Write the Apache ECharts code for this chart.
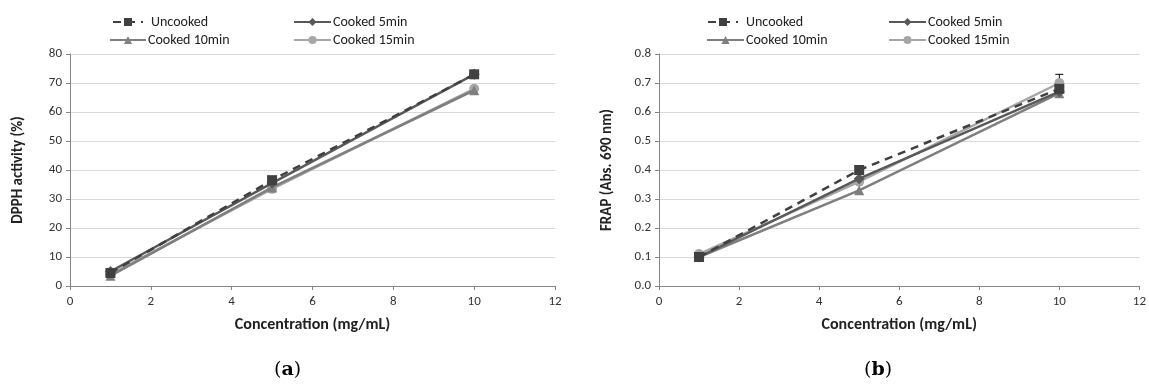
<!DOCTYPE html>
<html><head><meta charset="utf-8">
<script src="https://cdn.jsdelivr.net/npm/echarts@6/dist/echarts.min.js"></script>
<style>html,body{margin:0;padding:0;background:#fff}#c{width:1149px;height:389px}</style>
</head><body><div id="c"></div>
<script>
const conc = [1, 5, 10];
const seriesNames = ['Uncooked', 'Cooked 5min', 'Cooked 10min', 'Cooked 15min'];
const dpphUncooked = [4.5, 36.5, 73];
const dpphCooked5 = [5, 35.5, 73];
const dpphCooked10 = [3.5, 34, 67.5];
const dpphCooked15 = [4, 33.5, 68];
const frapUncooked = [0.10, 0.40, 0.68];
const frapCooked5 = [0.10, 0.37, 0.67];
const frapCooked10 = [0.10, 0.33, 0.665];
const frapCooked15 = [0.11, 0.36, 0.70];
const frapCooked15Err = [0, 0, 0.03];
const xTicks = [0, 2, 4, 6, 8, 10, 12];

const colors = ['#404040', '#595959', '#7f7f7f', '#a6a6a6'];
const symbols = ['rect', 'diamond', 'triangle', 'circle'];
const font = 'Carlito, Calibri, Lato, "Liberation Sans", Arial, sans-serif';

function pairs(vals) { return conc.map((c, i) => [c, vals[i]]); }

const chart = echarts.init(document.getElementById('c'));
const grids = [
  { left: 70, top: 54, width: 485, height: 232 },
  { left: 659, top: 54, width: 485, height: 232 }
];
function xAxis(gi) {
  return {
    type: 'value', gridIndex: gi, min: 0, max: 12, interval: 2,
    name: 'Concentration (mg/mL)', nameLocation: 'middle', nameGap: 31,
    nameTextStyle: { fontFamily: font, fontWeight: 'bold', fontSize: 16, color: '#222' },
    axisLine: { show: true, lineStyle: { color: '#868686' } },
    axisTick: { show: true, length: 4, lineStyle: { color: '#868686' } },
    axisLabel: { fontFamily: font, fontSize: 13, color: '#333', margin: 9 },
    splitLine: { show: false }
  };
}
function yAxis(gi, max, interval, name, dec) {
  return {
    type: 'value', gridIndex: gi, min: 0, max: max, interval: interval,
    name: name, nameLocation: 'middle', nameGap: 44,
    nameTextStyle: { fontFamily: font, fontWeight: 'bold', fontSize: 15, color: '#222' },
    axisLine: { show: true, lineStyle: { color: '#868686' } },
    axisTick: { show: true, length: 4, inside: false, lineStyle: { color: '#868686' } },
    axisLabel: { fontFamily: font, fontSize: 13, color: '#333', margin: 8,
      formatter: v => v.toFixed(dec) },
    splitLine: { show: true, lineStyle: { color: '#d9d9d9', width: 1 } }
  };
}
const dpph = [dpphUncooked, dpphCooked5, dpphCooked10, dpphCooked15];
const frap = [frapUncooked, frapCooked5, frapCooked10, frapCooked15];
const series = [];
[dpph, frap].forEach((set, gi) => {
  set.forEach((vals, k) => {
    series.push({
      name: seriesNames[k], type: 'line', xAxisIndex: gi, yAxisIndex: gi,
      data: pairs(vals), symbol: symbols[k], symbolSize: k === 1 ? 11 : 10,
      lineStyle: { color: colors[k], width: 2.5, type: k === 0 ? [8, 6] : 'solid' },
      itemStyle: { color: colors[k] },
      z: 10 - k
    });
  });
});
series.push({
  type: 'custom', xAxisIndex: 1, yAxisIndex: 1,
  data: conc.map((c, i) => [c, frapCooked15[i], frapCooked15Err[i]]),
  renderItem: function (params, api) {
    const e = api.value(2);
    if (!e) return null;
    const p0 = api.coord([api.value(0), api.value(1)]);
    const p1 = api.coord([api.value(0), api.value(1) + e]);
    return { type: 'group', children: [
      { type: 'line', shape: { x1: p0[0], y1: p0[1], x2: p1[0], y2: p1[1] }, style: { stroke: '#000', lineWidth: 1 } },
      { type: 'line', shape: { x1: p1[0] - 4, y1: p1[1], x2: p1[0] + 4, y2: p1[1] }, style: { stroke: '#000', lineWidth: 1 } }
    ]};
  },
  z: 1
});

function legendItem(name, left, top, w) {
  return {
    data: [name], left: left, top: top, itemWidth: w, itemHeight: 10, itemGap: 0,
    textStyle: { fontFamily: font, fontSize: 14, color: '#222', padding: [0, 0, 0, -3] },
    padding: 0, selectedMode: false
  };
}
const legends = [
  legendItem('Uncooked', 112, 15, 30),
  legendItem('Cooked 5min', 293, 15, 37),
  legendItem('Cooked 10min', 109, 33, 36),
  legendItem('Cooked 15min', 293, 33, 37),
  legendItem('Uncooked', 707, 15, 30),
  legendItem('Cooked 5min', 888, 15, 37),
  legendItem('Cooked 10min', 706, 33, 37),
  legendItem('Cooked 15min', 888, 33, 37)
];
legends[0].textStyle.padding = [0, 0, 0, 3];
legends[4].textStyle.padding = [0, 0, 0, 3];

chart.setOption({
  animation: false,
  grid: grids,
  legend: legends,
  xAxis: [xAxis(0), xAxis(1)],
  yAxis: [yAxis(0, 80, 10, 'DPPH activity (%)', 0), yAxis(1, 0.8, 0.1, 'FRAP (Abs. 690 nm)', 1)],
  series: series,
  graphic: [
    { type: 'text', left: 274, top: 361, style: { rich: { p: { fontFamily: '"DejaVu Serif", serif', fontSize: 19, fill: '#000' }, b: { fontFamily: '"DejaVu Serif", serif', fontSize: 19, fontWeight: 'bold', fill: '#000' } }, text: '{p|(}{b|a}{p|)}' } },
    { type: 'text', left: 864, top: 361, style: { rich: { p: { fontFamily: '"DejaVu Serif", serif', fontSize: 19, fill: '#000' }, b: { fontFamily: '"DejaVu Serif", serif', fontSize: 19, fontWeight: 'bold', fill: '#000' } }, text: '{p|(}{b|b}{p|)}' } }
  ]
});
</script></body></html>
